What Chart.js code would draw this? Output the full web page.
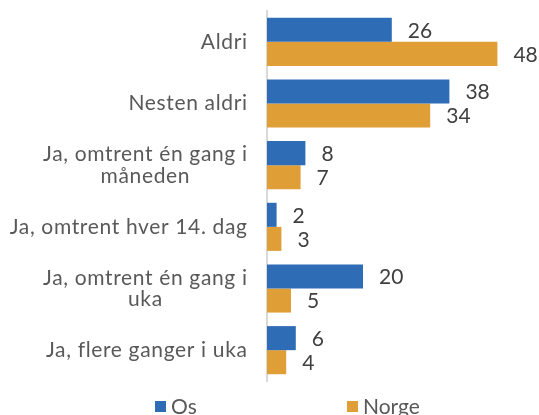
<!DOCTYPE html>
<html>
<head>
<meta charset="utf-8">
<script src="https://cdn.jsdelivr.net/npm/chart.js@4.4.1/dist/chart.umd.min.js"></script>
<style>
  html, body { margin: 0; padding: 0; background: #fff; }
  #wrap { width: 539px; height: 415px; position: relative; }
</style>
</head>
<body>
<div id="wrap"><canvas id="statsChart"></canvas></div>
<script>
const categories = [
  "Aldri",
  "Nesten aldri",
  ["Ja, omtrent én gang i", "måneden"],
  "Ja, omtrent hver 14. dag",
  ["Ja, omtrent én gang i", "uka"],
  "Ja, flere ganger i uka"
];
const osValues = [26, 38, 8, 2, 20, 6];
const norgeValues = [48, 34, 7, 3, 5, 4];

const FONT = "Lato, sans-serif";
const TEXT = "#595959";
const SPACING = 0.65;

// category names: each block right-aligned to the axis, its lines centred
const categoryLabels = {
  id: "categoryLabels",
  afterDraw(chart) {
    const ctx = chart.ctx;
    const yScale = chart.scales.y;
    const right = yScale.right - 20;
    const lineH = 21.5;
    ctx.save();
    ctx.font = "21px " + FONT;
    ctx.fillStyle = TEXT;
    ctx.textAlign = "left";
    ctx.textBaseline = "middle";
    chart.data.labels.forEach((label, i) => {
      const lines = Array.isArray(label) ? label : [label];
      ctx.letterSpacing = "0px";
      const widths = lines.map(l => ctx.measureText(l).width + SPACING * (l.length - 1));
      const w = Math.max(...widths);
      const cx = right - w / 2;
      const cy = yScale.getPixelForTick(i);
      const top = cy - (lines.length - 1) * lineH / 2;
      ctx.letterSpacing = SPACING + "px";
      lines.forEach((l, k) => ctx.fillText(l, cx - widths[k] / 2, top + k * lineH));
    });
    ctx.restore();
  }
};

// writes each bar's value just past its end
const valueLabels = {
  id: "valueLabels",
  afterDatasetsDraw(chart) {
    const ctx = chart.ctx;
    ctx.save();
    ctx.font = "21px " + FONT;
    ctx.fillStyle = "#404040";
    ctx.textAlign = "left";
    ctx.textBaseline = "middle";
    chart.data.datasets.forEach((ds, i) => {
      chart.getDatasetMeta(i).data.forEach((bar, j) => {
        ctx.fillText(ds.data[j], bar.x + 16, bar.y + 1);
      });
    });
    ctx.restore();
  }
};

// legend row along the bottom, two items spread apart
const wideLegend = {
  id: "wideLegend",
  afterDraw(chart) {
    const ctx = chart.ctx;
    const starts = [155, 347];
    const y = 406;
    ctx.save();
    ctx.font = "21px " + FONT;
    ctx.textBaseline = "middle";
    ctx.textAlign = "left";
    chart.data.datasets.forEach((ds, i) => {
      ctx.fillStyle = ds.backgroundColor;
      ctx.fillRect(starts[i], y - 5, 11, 11);
      ctx.fillStyle = TEXT;
      ctx.fillText(ds.label, starts[i] + 16, y + 1);
    });
    ctx.restore();
  }
};

document.addEventListener("DOMContentLoaded", () => {
  const ctx = document.getElementById("statsChart").getContext("2d");

  new Chart(ctx, {
    type: "bar",
    data: {
      labels: categories,
      datasets: [
        { label: "Os", data: osValues, backgroundColor: "#2E6DB5" },
        { label: "Norge", data: norgeValues, backgroundColor: "#E09E36" }
      ]
    },
    options: {
      indexAxis: "y",
      responsive: true,
      maintainAspectRatio: false,
      animation: false,
      layout: { padding: { top: 11, right: 32, bottom: 34, left: 0 } },
      datasets: {
        bar: { categoryPercentage: 0.78, barPercentage: 1 }
      },
      scales: {
        x: {
          min: 0,
          max: 50,
          display: false
        },
        y: {
          grid: { display: false, drawTicks: false },
          border: { color: "#d9d9d9", width: 2 },
          ticks: { display: false, autoSkip: false },
          afterFit: s => { s.width = 267; }
        }
      },
      plugins: {
        legend: { display: false },
        tooltip: { enabled: false }
      }
    },
    plugins: [valueLabels, categoryLabels, wideLegend]
  });
});
</script>
</body>
</html>
